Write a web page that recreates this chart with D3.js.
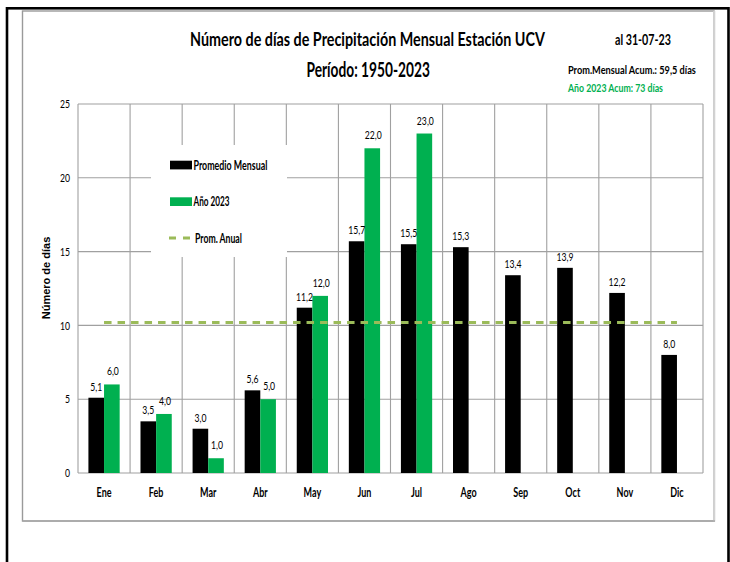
<!DOCTYPE html>
<html>
<head>
<meta charset="utf-8">
<script src="https://cdn.jsdelivr.net/npm/d3@7"></script>
<style>
  html, body { margin: 0; padding: 0; background: #fff; }
  svg { display: block; }
</style>
</head>
<body>
<svg id="chart" width="730" height="562"></svg>
<script>
// ---- Data ----
const months = ["Ene","Feb","Mar","Abr","May","Jun","Jul","Ago","Sep","Oct","Nov","Dic"];
const promedioMensual = [5.1, 3.5, 3.0, 5.6, 11.2, 15.7, 15.5, 15.3, 13.4, 13.9, 12.2, 8.0];
const anio2023 = [6.0, 4.0, 1.0, 5.0, 12.0, 22.0, 23.0, null, null, null, null, null];
const yTicks = [0, 5, 10, 15, 20, 25];
const seriesNames = ["Promedio Mensual", "Año 2023", "Prom. Anual"];
const titleLines = ["Número de días de Precipitación Mensual Estación UCV", "Período: 1950-2023"];
const dateLabel = "al 31-07-23";
const acumLabels = ["Prom.Mensual  Acum.: 59,5 días", "Año 2023 Acum: 73 días"];
const yAxisTitle = "Número de días";

const promAnual = d3.mean(promedioMensual);

// ---- Styles ----
const FONT = "Lato, 'Open Sans', sans-serif";
const SX = 0.72;              // horizontal compression of the Calibri-like texts
const GREEN = "#00B050";
const OLIVE = "#9BBB59";
const GRID = "#A0A0A0";
const fmt = v => d3.format(".1f")(v).replace(".", ",");

const svg = d3.select("#chart");

// text helper: optional target width, else uniform compression
function addText(parent, str, x, y, o) {
  const t = parent.append("text")
    .attr("font-family", o.family || FONT)
    .attr("font-size", o.size)
    .attr("font-weight", o.weight || "normal")
    .attr("fill", o.fill || "#000")
    .attr("text-anchor", o.anchor || "start")
    .text(str);
  const w = t.node().getComputedTextLength();
  const sx = o.width ? o.width / w : (o.sx || SX);
  t.attr("transform", `translate(${x},${y}) scale(${sx},1)`);
  return t;
}

// outer black frame and inner chart area
svg.append("rect").attr("x", 7).attr("y", 8.3).attr("width", 721.5).attr("height", 600)
  .attr("fill", "none").attr("stroke", "#000").attr("stroke-width", 2.6);
svg.append("rect").attr("x", 22.5).attr("y", 11).attr("width", 691.5).attr("height", 510)
  .attr("fill", "#fff").attr("stroke", "#9a9a9a").attr("stroke-width", 1.4);
svg.append("line").attr("x1", 714.2).attr("x2", 714.2).attr("y1", 11).attr("y2", 521.5)
  .attr("stroke", "#d2d2d2").attr("stroke-width", 2.2);
svg.append("line").attr("x1", 22.5).attr("x2", 715).attr("y1", 521).attr("y2", 521)
  .attr("stroke", "#a8a8a8").attr("stroke-width", 1.6);

// ---- Scales ----
const x = d3.scaleBand().domain(months).range([78, 703]).paddingInner(0).paddingOuter(0);
const y = d3.scaleLinear().domain([0, 25]).range([473, 104]);
const bw = x.bandwidth() * 0.3;
const cx = m => x(m) + x.bandwidth() / 2;

const g = svg.append("g");

// horizontal gridlines
g.selectAll("line.hgrid").data(yTicks).join("line")
  .attr("x1", x.range()[0]).attr("x2", x.range()[1])
  .attr("y1", d => y(d)).attr("y2", d => y(d))
  .attr("stroke", GRID).attr("stroke-width", 1.1);
// vertical gridlines at category boundaries
const bounds = months.map(m => x(m)).concat([x.range()[1]]);
g.selectAll("line.vgrid").data(bounds).join("line")
  .attr("x1", d => d).attr("x2", d => d)
  .attr("y1", y(25)).attr("y2", y(0))
  .attr("stroke", GRID).attr("stroke-width", 1.1);

// y axis tick labels
const ya = svg.append("g");
yTicks.forEach(v => addText(ya, d3.format("d")(v), 70, y(v) + 4.2, { size: 12, anchor: "end" }));

// x axis labels
const xa = svg.append("g");
months.forEach(m => addText(xa, m, cx(m), 496.5, { size: 12.5, weight: "bold", anchor: "middle" }));

// bars
g.selectAll("rect.prom").data(months).join("rect")
  .attr("x", m => cx(m) - bw)
  .attr("y", (m, i) => y(promedioMensual[i]))
  .attr("width", bw)
  .attr("height", (m, i) => y(0) - y(promedioMensual[i]))
  .attr("fill", "#000");
const m23 = months.filter((m, i) => anio2023[i] != null);
g.selectAll("rect.y23").data(m23).join("rect")
  .attr("x", m => cx(m))
  .attr("y", (m, i) => y(anio2023[i]))
  .attr("width", bw)
  .attr("height", (m, i) => y(0) - y(anio2023[i]))
  .attr("fill", GREEN);

// data labels
const dl = svg.append("g");
months.forEach((m, i) => addText(dl, fmt(promedioMensual[i]), cx(m) - bw / 2, y(promedioMensual[i]) - 7,
  { size: 12, anchor: "middle" }));
m23.forEach((m, i) => addText(dl, fmt(anio2023[i]), cx(m) + bw / 2 + 1, y(anio2023[i]) - 9,
  { size: 12, anchor: "middle" }));

// annual average dashed line
svg.append("line")
  .attr("x1", cx(months[0])).attr("x2", cx(months[11]))
  .attr("y1", y(promAnual)).attr("y2", y(promAnual))
  .attr("stroke", OLIVE).attr("stroke-width", 3).attr("stroke-dasharray", "7.5,6");

// legend
const lg = svg.append("g");
lg.append("rect").attr("x", 151).attr("y", 145).attr("width", 136).attr("height", 112).attr("fill", "#fff");
lg.append("rect").attr("x", 170).attr("y", 160.7).attr("width", 22).attr("height", 8.7).attr("fill", "#000");
lg.append("rect").attr("x", 170).attr("y", 197.3).attr("width", 22).attr("height", 8.7).attr("fill", GREEN);
lg.append("line").attr("x1", 169).attr("x2", 192).attr("y1", 238).attr("y2", 238)
  .attr("stroke", OLIVE).attr("stroke-width", 3).attr("stroke-dasharray", "7,7");
const legY = [169.5, 206, 242.5];
const legW = [74, 36, 47];
seriesNames.forEach((d, i) => addText(lg, d, i === 2 ? 195 : 193.5, legY[i],
  { size: 12.5, weight: "bold", width: legW[i] }));

// y axis title
svg.append("text")
  .attr("transform", "translate(50,278) rotate(-90)")
  .attr("text-anchor", "middle")
  .attr("font-family", "'Liberation Sans', Arial, sans-serif")
  .attr("font-size", 11).attr("font-weight", "bold")
  .text(yAxisTitle);

// titles
addText(svg, titleLines[0], 190, 45.5, { size: 19.5, weight: "bold", width: 355 });
addText(svg, titleLines[1], 306.5, 76.5, { size: 20, weight: "bold", width: 123.5 });
addText(svg, dateLabel, 615, 44.5, { size: 14.5, weight: "bold", width: 56 });
addText(svg, acumLabels[0], 568, 74, { size: 11.5, weight: "bold", width: 128 });
addText(svg, acumLabels[1], 568, 91.5, { size: 11.5, weight: "bold", width: 95, fill: GREEN });
</script>
</body>
</html>
